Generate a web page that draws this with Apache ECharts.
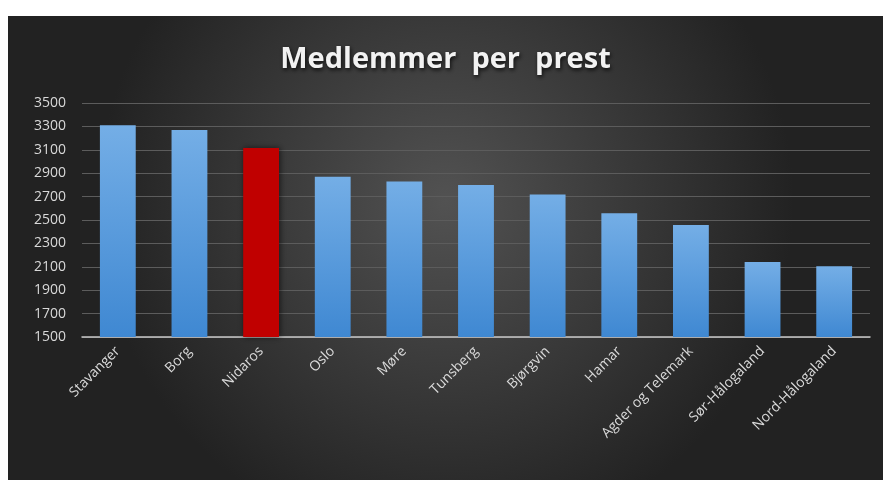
<!DOCTYPE html>
<html>
<head>
<meta charset="utf-8">
<script src="https://cdn.jsdelivr.net/npm/echarts@6/dist/echarts.min.js"></script>
<style>
  html, body { margin: 0; padding: 0; background: #ffffff; }
  #chart { position: absolute; left: 8px; top: 16px; width: 875px; height: 464px; }
</style>
</head>
<body>
<div id="chart"></div>
<script>
// bispedømmer og medlemmer per prest
var categories = ['Stavanger', 'Borg', 'Nidaros', 'Oslo', 'Møre', 'Tunsberg', 'Bjørgvin', 'Hamar', 'Agder og Telemark', 'Sør-Hålogaland', 'Nord-Hålogaland'];
var values = [3310, 3270, 3115, 2870, 2830, 2800, 2717, 2558, 2457, 2140, 2105];
var highlight = 'Nidaros';

var blue = new echarts.graphic.LinearGradient(0, 0, 0, 1, [
  { offset: 0, color: '#74aee6' },
  { offset: 1, color: '#3f88d2' }
]);

var chart = echarts.init(document.getElementById('chart'));
chart.setOption({
  backgroundColor: new echarts.graphic.RadialGradient(0.5, 0.4, 0.75, [
    { offset: 0, color: '#525252' },
    { offset: 1, color: '#222222' }
  ]),
  title: {
    text: 'Medlemmer  per  prest',
    left: 'center',
    top: 24,
    textStyle: {
      fontFamily: 'Open Sans',
      fontSize: 29,
      fontWeight: 'bold',
      color: '#f2f2f2',
      textShadowColor: 'rgba(0,0,0,0.8)',
      textShadowBlur: 4,
      textShadowOffsetX: 1,
      textShadowOffsetY: 2
    }
  },
  grid: { left: 74, right: 13, top: 87, bottom: 143 },
  xAxis: {
    type: 'category',
    data: categories,
    axisTick: { show: false },
    axisLine: { lineStyle: { color: '#c8c8c8', width: 1.5 } },
    axisLabel: {
      rotate: 45,
      interval: 0,
      margin: 12,
      color: '#d9d9d9',
      fontFamily: 'Open Sans',
      fontSize: 14
    }
  },
  yAxis: {
    type: 'value',
    min: 1500,
    max: 3500,
    interval: 200,
    axisLine: { show: false },
    axisTick: { show: false },
    splitLine: { lineStyle: { color: '#5c5c5c', width: 1 } },
    axisLabel: {
      margin: 16,
      color: '#d9d9d9',
      fontFamily: 'Open Sans',
      fontSize: 14,
      formatter: function (v) { return String(v); }
    }
  },
  series: [{
    type: 'bar',
    barWidth: '50%',
    data: values.map(function (v, i) {
      return {
        value: v,
        itemStyle: { color: categories[i] === highlight ? '#c00000' : blue }
      };
    }),
    itemStyle: {
      shadowColor: 'rgba(0,0,0,0.6)',
      shadowBlur: 6,
      shadowOffsetX: 1,
      shadowOffsetY: 0
    }
  }]
});
</script>
</body>
</html>
